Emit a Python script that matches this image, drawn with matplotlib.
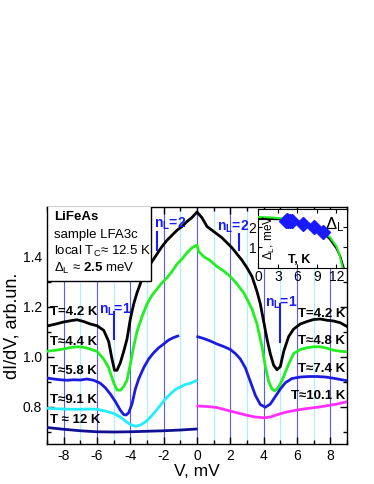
import matplotlib
matplotlib.use("Agg")
import matplotlib.pyplot as plt
from matplotlib.patches import Rectangle
from matplotlib.ticker import MultipleLocator

plt.rcParams['font.family'] = ['Liberation Sans', 'DejaVu Sans']
plt.rcParams['mathtext.fontset'] = 'custom'
plt.rcParams['mathtext.rm'] = 'Liberation Sans'
plt.rcParams['mathtext.bf'] = 'Liberation Sans:bold'
plt.rcParams['mathtext.it'] = 'Liberation Sans:italic'
plt.rcParams['axes.unicode_minus'] = False

# ---- dI/dV spectra (bias V in mV, conductance in arb. units) ----
v_42 = [-9.0, -8.6, -8.0, -7.6, -7.2, -6.8, -6.4, -6.0, -5.6, -5.3, -5.1, -4.95, -4.8, -4.6,
        -4.4, -4.2, -4.0, -3.8, -3.6, -3.3, -3.0, -2.7, -2.4, -2.1, -1.8, -1.5, -1.2, -0.9,
        -0.6, -0.3, 0.0, 0.3, 0.6, 0.9, 1.2, 1.5, 1.8, 2.1, 2.4, 2.7, 3.0, 3.3, 3.6, 3.8,
        4.0, 4.2, 4.4, 4.6, 4.8, 5.0, 5.2, 5.5, 5.8, 6.2, 6.6, 7.0, 7.4, 7.8, 8.2, 8.6, 9.0]
g_42 = [1.122, 1.128, 1.138, 1.143, 1.147, 1.140, 1.130, 1.123, 1.105, 1.060, 0.990, 0.945,
        0.945, 0.975, 1.020, 1.070, 1.150, 1.210, 1.255, 1.310, 1.350, 1.380, 1.410, 1.440,
        1.465, 1.485, 1.505, 1.520, 1.540, 1.556, 1.578, 1.555, 1.520, 1.505, 1.490, 1.475,
        1.455, 1.435, 1.410, 1.385, 1.355, 1.320, 1.260, 1.210, 1.140, 1.070, 1.010, 0.965,
        0.947, 0.960, 1.020, 1.080, 1.110, 1.130, 1.140, 1.148, 1.150, 1.145, 1.142, 1.135,
        1.120]

v_green = [-9.0, -8.6, -8.0, -7.6, -7.2, -6.8, -6.4, -6.0, -5.6, -5.3, -5.0, -4.8, -4.6,
           -4.4, -4.2, -4.0, -3.8, -3.6, -3.3, -3.0, -2.7, -2.4, -2.1, -1.8, -1.5, -1.2,
           -0.9, -0.6, -0.3, 0.0, 0.1, 0.4, 0.8, 1.2, 1.6, 2.0, 2.4, 2.8, 3.0, 3.3, 3.6,
           3.9, 4.1, 4.3, 4.5, 4.65, 4.8, 5.0, 5.2, 5.5, 5.8, 6.2, 6.6, 7.0, 7.4, 7.8, 8.2,
           8.6, 9.0]
g_green = [1.021, 1.024, 1.030, 1.036, 1.039, 1.037, 1.030, 1.020, 0.990, 0.955, 0.895,
           0.866, 0.865, 0.880, 0.905, 0.970, 1.040, 1.100, 1.160, 1.210, 1.245, 1.270,
           1.295, 1.315, 1.340, 1.370, 1.390, 1.415, 1.435, 1.446, 1.420, 1.400, 1.383,
           1.360, 1.342, 1.320, 1.290, 1.255, 1.230, 1.190, 1.130, 1.040, 0.960, 0.900,
           0.870, 0.863, 0.870, 0.890, 0.920, 0.970, 1.012, 1.028, 1.035, 1.039, 1.039,
           1.033, 1.025, 1.021, 1.019]

v_58 = [-9.0, -8.6, -8.2, -7.8, -7.4, -7.0, -6.6, -6.2, -5.8, -5.5, -5.2, -4.9, -4.6, -4.4,
        -4.25, -4.1, -3.9, -3.7, -3.5, -3.2, -2.9, -2.6, -2.3, -2.0, -1.7, -1.4, -1.15]
g_58 = [0.914, 0.910, 0.907, 0.905, 0.907, 0.906, 0.910, 0.905, 0.893, 0.875, 0.850, 0.820,
        0.785, 0.768, 0.766, 0.775, 0.810, 0.870, 0.910, 0.955, 0.990, 1.015, 1.035, 1.050,
        1.066, 1.076, 1.082]

v_74 = [0.05, 0.4, 0.8, 1.2, 1.6, 2.0, 2.3, 2.6, 2.9, 3.2, 3.5, 3.8, 4.1, 4.4, 4.7, 5.0,
        5.3, 5.7, 6.2, 6.7, 7.2, 7.7, 8.2, 8.6, 9.0]
g_74 = [1.079, 1.072, 1.062, 1.050, 1.040, 1.028, 1.012, 0.990, 0.955, 0.900, 0.845, 0.808,
        0.797, 0.810, 0.840, 0.870, 0.895, 0.912, 0.918, 0.920, 0.920, 0.918, 0.913, 0.908,
        0.903]

v_91 = [-9.0, -8.5, -8.0, -7.5, -7.0, -6.5, -6.0, -5.5, -5.0, -4.6, -4.3, -4.0, -3.7, -3.4,
        -3.1, -2.8, -2.5, -2.2, -1.9, -1.6, -1.3, -1.0, -0.7, -0.4, -0.05]
g_91 = [0.793, 0.791, 0.790, 0.789, 0.789, 0.790, 0.789, 0.782, 0.772, 0.758, 0.742, 0.728,
        0.721, 0.726, 0.738, 0.757, 0.780, 0.805, 0.830, 0.850, 0.868, 0.878, 0.888, 0.893,
        0.903]

v_12 = [-9.0, -8.0, -7.0, -6.0, -5.0, -4.0, -3.0, -2.0, -1.0, -0.05]
g_12 = [0.716, 0.709, 0.703, 0.699, 0.698, 0.699, 0.701, 0.703, 0.706, 0.710]

v_101 = [0.05, 0.6, 1.2, 1.8, 2.4, 3.0, 3.5, 4.0, 4.4, 4.8, 5.3, 6.0, 6.6, 7.2, 7.8, 8.4, 9.0]
g_101 = [0.802, 0.800, 0.796, 0.785, 0.775, 0.765, 0.758, 0.755, 0.758, 0.767, 0.777, 0.786,
         0.792, 0.797, 0.803, 0.810, 0.819]

# ---- inset: gap temperature dependence ----
t_points = [4.2, 4.4, 4.6, 4.8, 5.2, 6.9, 8.5, 9.9]
delta_points = [2.32, 2.33, 2.32, 2.30, 2.30, 2.15, 2.00, 1.78]
t_black = [0, 2, 4, 6, 8, 9, 10, 11, 12, 12.6, 12.9, 13.1]
d_black = [2.40, 2.40, 2.39, 2.30, 2.10, 1.95, 1.72, 1.40, 0.95, 0.55, 0.20, 0.0]
t_green = [0, 2, 4, 6, 8, 9, 10, 11, 12, 12.5, 12.8, 12.95]
d_green = [2.50, 2.48, 2.42, 2.30, 2.10, 1.97, 1.78, 1.50, 1.05, 0.60, 0.20, 0.0]

fig = plt.figure(figsize=(3.74, 4.84), dpi=100)
ax = fig.add_axes([0.1257, 0.0826, 0.8021, 0.4897])

for v in range(-8, 9):
    if v % 2 == 0:
        ax.axvline(v, color='#5a5aff', lw=0.8, zorder=1)
    else:
        ax.axvline(v, color='#aaf0ff', lw=0.8, zorder=1)

lw = 2.0
ax.plot(v_42, g_42, color='black', lw=lw, zorder=3)
ax.plot(v_green, g_green, color='#22ee22', lw=lw, zorder=3)
ax.plot(v_58, g_58, color='#1c1ce0', lw=lw, zorder=3)
ax.plot(v_74, g_74, color='#1c1ce0', lw=lw, zorder=3)
ax.plot(v_91, g_91, color='#22eeff', lw=lw, zorder=3)
ax.plot(v_12, g_12, color='#101090', lw=lw, zorder=3)
ax.plot(v_101, g_101, color='#ff30ff', lw=lw, zorder=3)

tk = dict(fontsize=9.5, fontweight='bold', zorder=4)
ax.text(-8.85, 1.165, 'T=4.2 K', ha='left', va='baseline', **tk)
ax.text(-8.8, 1.045, 'T\u22484.4 K', ha='left', va='baseline', **tk)
ax.text(-8.8, 0.93, 'T\u22485.8 K', ha='left', va='baseline', **tk)
ax.text(-8.8, 0.816, 'T\u22489.1 K', ha='left', va='baseline', **tk)
ax.text(-8.8, 0.735, 'T \u2248 12 K', ha='left', va='baseline', **tk)
ax.text(8.9, 1.158, 'T=4.2 K', ha='right', va='baseline', **tk)
ax.text(8.9, 1.052, 'T\u22484.8 K', ha='right', va='baseline', **tk)
ax.text(8.9, 0.937, 'T\u22487.4 K', ha='right', va='baseline', **tk)
ax.text(8.9, 0.83, 'T\u224810.1 K', ha='right', va='baseline', **tk)

# n_L markers
nc = '#1a1aff'
nk = dict(color=nc, fontsize=10, fontweight='bold', va='baseline', zorder=4)
ax.text(-5.9, 1.17, r'n$_\mathbf{L}$=1', ha='left', **nk)
ax.plot([-5, -5], [1.07, 1.18], color=nc, lw=1.5, zorder=4)
ax.text(-2.6, 1.515, r'n$_\mathbf{L}$=2', ha='left', **nk)
ax.plot([-2.4, -2.4], [1.425, 1.50], color=nc, lw=1.5, zorder=4)
ax.text(1.2, 1.505, r'n$_\mathbf{L}$=2', ha='left', **nk)
ax.plot([2.5, 2.5], [1.425, 1.49], color=nc, lw=1.5, zorder=4)
ax.text(4.1, 1.2, r'n$_\mathbf{L}$=1', ha='left', **nk)
ax.plot([5, 5], [1.058, 1.21], color=nc, lw=1.5, zorder=4)

# info box
ax.add_patch(Rectangle((-9, 1.304), 6.25, 0.31, facecolor='white', edgecolor='black',
                       lw=1.0, zorder=5))
bk = dict(fontsize=9.5, ha='left', va='baseline', zorder=6)
ax.text(-8.6, 1.547, 'LiFeAs', fontweight='bold', **bk)
ax.text(-8.6, 1.476, 'sample LFA3c', **bk)
ax.text(-8.6, 1.408, 'local T$_\\mathregular{C}$\u2248 12.5 K', **bk)
ax.text(-8.6, 1.340, '\u0394$_\\mathregular{L}$ \u2248 $\\mathbf{2.5}$ meV', **bk)

ax.set_xlim(-9, 9)
ax.set_ylim(0.65, 1.598)
ax.xaxis.set_major_locator(MultipleLocator(2))
ax.xaxis.set_minor_locator(MultipleLocator(1))
ax.yaxis.set_major_locator(MultipleLocator(0.2))
ax.yaxis.set_minor_locator(MultipleLocator(0.1))
ax.tick_params(which='both', direction='in', top=True, right=True, labelsize=10)
ax.tick_params(which='major', length=5, width=1)
ax.tick_params(which='minor', length=3, width=1)
ax.set_xlabel('V, mV', fontsize=12.5, labelpad=1)
ax.set_ylabel('dI/dV, arb.un.', fontsize=13, labelpad=2)
for s in ax.spines.values():
    s.set_linewidth(1.0)

# inset
ins = fig.add_axes([0.6907, 0.4457, 0.2364, 0.1225])
ins.plot(t_black, d_black, color='black', lw=1.5, zorder=2)
ins.plot(t_green, d_green, color='#22ee22', lw=1.5, zorder=3)
ins.plot(t_points, delta_points, 'D', color='#1a1aff', ms=7, zorder=4)
ins.set_xlim(0, 13.6)
ins.set_ylim(-0.05, 2.9)
ins.set_xticks([0, 3, 6, 9, 12])
ins.set_yticks([1, 2])
ins.tick_params(direction='in', labelsize=10, length=3, pad=1.5, top=True, right=True)
ins.text(0.5, 0.35, '\u0394$_\\mathregular{L}$, meV', rotation=90, fontsize=8.5,
         ha='left', va='bottom')
ins.text(4.6, 0.05, 'T, K', fontsize=9, fontweight='bold', ha='left', va='bottom')
ins.text(10.2, 1.9, '\u0394$_\\mathregular{L}$', fontsize=12, ha='left', va='baseline')

fig.savefig('out.png', dpi=100)
